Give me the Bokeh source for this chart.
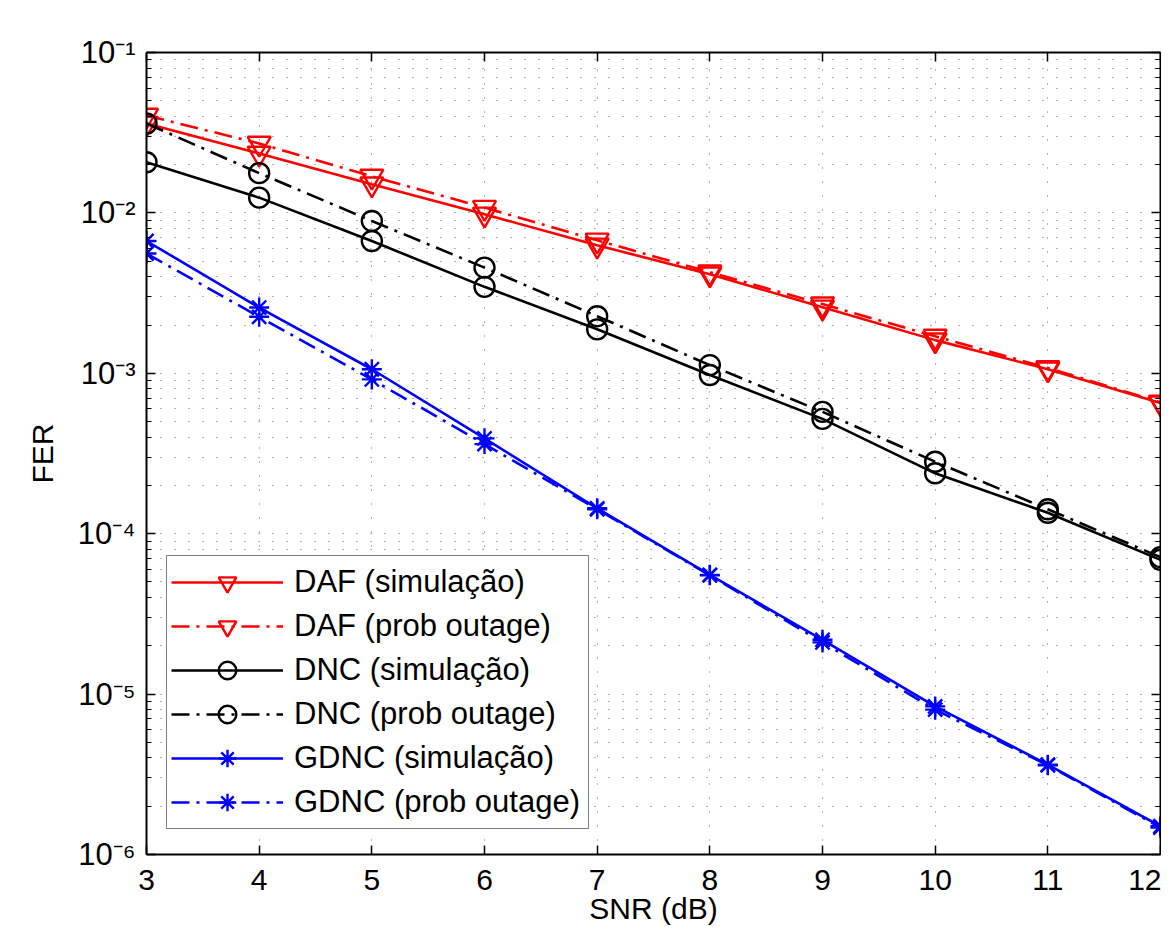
from bokeh.plotting import figure
from bokeh.models import (FixedTicker, LogAxis, LinearAxis, Legend, LegendItem,
                          CustomJSTickFormatter, Range1d)
from bokeh.embed import file_html
from bokeh.resources import INLINE

# ---------------- data ----------------
snr = [3, 4, 5, 6, 7, 8, 9, 10, 11, 12]
daf_sim = [0.0361, 0.0235, 0.0151, 0.0098, 0.00628, 0.00415, 0.00258, 0.00161, 0.00106, 0.000652]
daf_out = [0.0405, 0.0271, 0.0169, 0.0108, 0.00675, 0.00427, 0.00270, 0.00170, 0.00108, 0.000660]
dnc_sim = [0.0207, 0.01245, 0.00668, 0.00346, 0.00188, 0.000975, 0.00052, 0.000238, 0.000135, 6.87e-5]
dnc_out = [0.0361, 0.0177, 0.00891, 0.00456, 0.00227, 0.001125, 0.000575, 0.000281, 0.000142, 7.14e-5]
gdnc_sim = [0.00668, 0.00257, 0.00106, 0.000393, 0.000144, 5.54e-5, 2.18e-5, 8.38e-6, 3.63e-6, 1.50e-6]
gdnc_out = [0.00558, 0.00225, 0.000916, 0.000362, 0.000142, 5.50e-5, 2.10e-5, 8.00e-6, 3.60e-6, 1.47e-6]

labels = ["DAF (simulação)", "DAF (prob outage)", "DNC (simulação)",
          "DNC (prob outage)", "GDNC (simulação)", "GDNC (prob outage)"]
x_ticks = [3, 4, 5, 6, 7, 8, 9, 10, 11, 12]
y_exponents = [-6, -5, -4, -3, -2, -1]
x_label = "SNR (dB)"
y_label = "FER"

FONT = "Liberation Sans"
DASHDOT = "18 7 3 7"

y_major = [10.0 ** e for e in y_exponents]
y_minor = [m * 10.0 ** e for e in y_exponents[:-1] for m in range(2, 10)]

p = figure(width=1161, height=927, y_axis_type="log",
           x_range=Range1d(3, 12), y_range=Range1d(1e-6, 1e-1),
           output_backend="svg", toolbar_location=None,
           min_border_left=146, min_border_right=1, min_border_top=52, min_border_bottom=72)
p.outline_line_color = None
p.background_fill_color = "white"
p.border_fill_color = "white"

xticker = FixedTicker(ticks=x_ticks)
yticker = FixedTicker(ticks=y_major, minor_ticks=y_minor)

sup_fmt = CustomJSTickFormatter(code="""
const e = Math.round(Math.log10(tick));
const sup = {'-':'\u207b','0':'\u2070','1':'\u00b9','2':'\u00b2','3':'\u00b3','4':'\u2074','5':'\u2075','6':'\u2076','7':'\u2077','8':'\u2078','9':'\u2079'};
return '10' + String(e).split('').map(c => sup[c]).join('');
""")
empty_fmt = CustomJSTickFormatter(code="return '';")

def style_axis(ax):
    ax.axis_line_color = "black"
    ax.axis_line_width = 2
    ax.major_tick_line_color = "black"
    ax.major_tick_line_width = 1.5
    ax.major_tick_in = 9
    ax.major_tick_out = 0
    ax.minor_tick_line_color = "black"
    ax.minor_tick_line_width = 1.2
    ax.minor_tick_in = 5
    ax.minor_tick_out = 0
    ax.major_label_text_font = FONT
    ax.major_label_text_font_size = "30px"
    ax.major_label_text_color = "black"

xa = p.xaxis[0]
xa.ticker = xticker
style_axis(xa)
xa.minor_tick_line_color = None
xa.major_label_standoff = 15
xa.axis_label = x_label
xa.axis_label_text_font = FONT
xa.axis_label_text_font_size = "30px"
xa.axis_label_text_font_style = "normal"
xa.axis_label_text_color = "black"
xa.axis_label_standoff = -1

ya = p.yaxis[0]
ya.ticker = yticker
ya.formatter = sup_fmt
style_axis(ya)
ya.major_label_text_font_size = "31px"
ya.major_label_standoff = 11
ya.axis_label = y_label
ya.axis_label_text_font = FONT
ya.axis_label_text_font_size = "30px"
ya.axis_label_text_font_style = "normal"
ya.axis_label_text_color = "black"
ya.axis_label_standoff = 16

top = LinearAxis(ticker=xticker, formatter=empty_fmt)
style_axis(top)
top.minor_tick_line_color = None
top.major_label_standoff = 0
p.add_layout(top, "above")

right = LogAxis(ticker=yticker, formatter=empty_fmt)
style_axis(right)
right.major_label_standoff = 0
p.add_layout(right, "right")

for g, tk in ((p.xgrid[0], xticker), (p.ygrid[0], yticker)):
    g.ticker = tk
    g.grid_line_color = "black"
    g.grid_line_alpha = 0.6
    g.grid_line_dash = "1 13"
    g.grid_line_width = 1
p.ygrid[0].minor_grid_line_color = "black"
p.ygrid[0].minor_grid_line_alpha = 0.6
p.ygrid[0].minor_grid_line_dash = "1 13"
p.ygrid[0].minor_grid_line_width = 1

series = [
    (daf_sim, "red", "solid", "inverted_triangle", 23),
    (daf_out, "red", DASHDOT, "inverted_triangle", 23),
    (dnc_sim, "black", "solid", "circle", 20),
    (dnc_out, "black", DASHDOT, "circle", 20),
    (gdnc_sim, "blue", "solid", "asterisk", 20),
    (gdnc_out, "blue", DASHDOT, "asterisk", 20),
]

items = []
for (ys, col, dash, mk, sz), lab in zip(series, labels):
    ln = p.line(snr, ys, line_color=col, line_width=2.6, line_dash=dash)
    sc = p.scatter(snr, ys, marker=mk, size=sz, line_color=col, line_width=2.4,
                   fill_color=None)
    items.append(LegendItem(label=lab, renderers=[ln, sc]))

legend = Legend(items=items, location=(20, 25), margin=0,
                border_line_color="black", border_line_width=1.5,
                background_fill_color="white", background_fill_alpha=1.0,
                label_text_font=FONT, label_text_font_size="31px", label_text_color="black",
                glyph_width=112, glyph_height=44, label_height=44, label_width=290,
                padding=4, spacing=0, label_standoff=11)
p.add_layout(legend)

open("out.html", "w").write(file_html(p, INLINE))
